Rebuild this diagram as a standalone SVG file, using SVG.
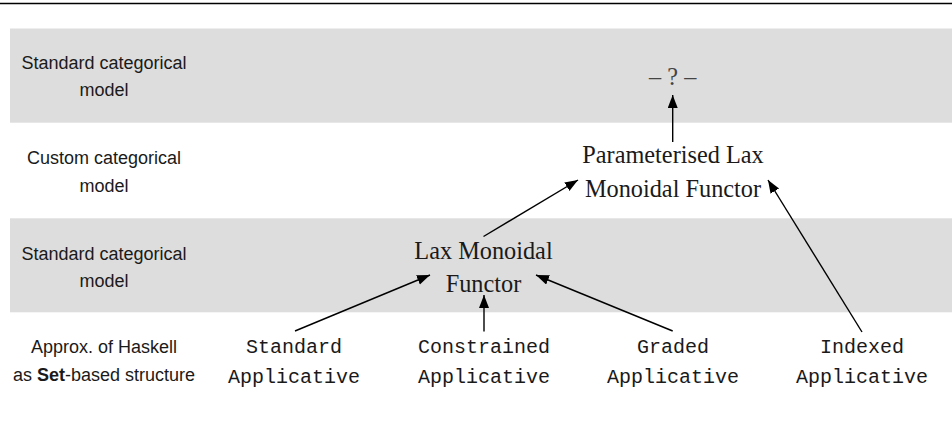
<svg xmlns="http://www.w3.org/2000/svg" width="952" height="425" viewBox="0 0 952 425">
<style>
.band{fill:#dddddd}
.lbl{font-family:"Liberation Sans","Noto Sans",Arial,sans-serif;font-size:18px;fill:#1a1a1a;text-anchor:middle}
.ser{font-family:"Liberation Serif","Times New Roman",serif;font-size:24.3px;fill:#1a1a1a;text-anchor:middle}
.mono{font-family:"Liberation Mono","Courier New",monospace;font-size:20px;fill:#1a1a1a;text-anchor:middle}
.edge{stroke:#000;stroke-width:1.4;fill:none;marker-end:url(#ah)}
</style>
<defs>
<marker id="ah" markerUnits="userSpaceOnUse" markerWidth="14" markerHeight="11" refX="13" refY="5" orient="auto">
<path d="M0,0 L13,5 L0,10 z" fill="#000"/>
</marker>
</defs>
<rect width="952" height="425" fill="#fff"/>
<line x1="0" y1="3.5" x2="952" y2="3.5" stroke="#000" stroke-width="1.4"/>
<rect class="band" x="10" y="28.5" width="942" height="94.2"/>
<rect class="band" x="10" y="218.3" width="942" height="94"/>
<g id="row-labels">
<text class="lbl" x="104" y="68.5">Standard categorical</text>
<text class="lbl" x="104" y="96">model</text>
<text class="lbl" x="104" y="164">Custom categorical</text>
<text class="lbl" x="104" y="191.5">model</text>
<text class="lbl" x="104" y="259.5">Standard categorical</text>
<text class="lbl" x="104" y="287">model</text>
<text class="lbl" x="104" y="352.5">Approx. of Haskell</text>
<text class="lbl" x="104" y="380.5">as <tspan font-weight="bold">Set</tspan>-based structure</text>
</g>
<g id="connectors">
<line class="edge" x1="672.7" y1="142" x2="672.7" y2="95"/>
<line class="edge" x1="483.5" y1="236.5" x2="578" y2="180"/>
<line class="edge" x1="862" y1="332" x2="768" y2="180"/>
<line class="edge" x1="295" y1="331" x2="430" y2="275"/>
<line class="edge" x1="484" y1="331.5" x2="484" y2="295"/>
<line class="edge" x1="672.7" y1="331" x2="536" y2="275"/>
</g>
<g id="unknown">
<text class="ser" x="672.7" y="85" style="fill:#444">– ? –</text>
</g>
<g id="parameterised">
<text class="ser" x="673" y="163">Parameterised Lax</text>
<text class="ser" x="673" y="196.5">Monoidal Functor</text>
</g>
<g id="laxmonoidal">
<text class="ser" x="483.5" y="259">Lax Monoidal</text>
<text class="ser" x="483.5" y="292">Functor</text>
</g>
<g id="standard">
<text class="mono" x="294" y="353">Standard</text>
<text class="mono" x="294" y="383">Applicative</text>
</g>
<g id="constrained">
<text class="mono" x="484" y="353">Constrained</text>
<text class="mono" x="484" y="383">Applicative</text>
</g>
<g id="graded">
<text class="mono" x="673" y="353">Graded</text>
<text class="mono" x="673" y="383">Applicative</text>
</g>
<g id="indexed">
<text class="mono" x="862" y="353">Indexed</text>
<text class="mono" x="862" y="383">Applicative</text>
</g>
</svg>
